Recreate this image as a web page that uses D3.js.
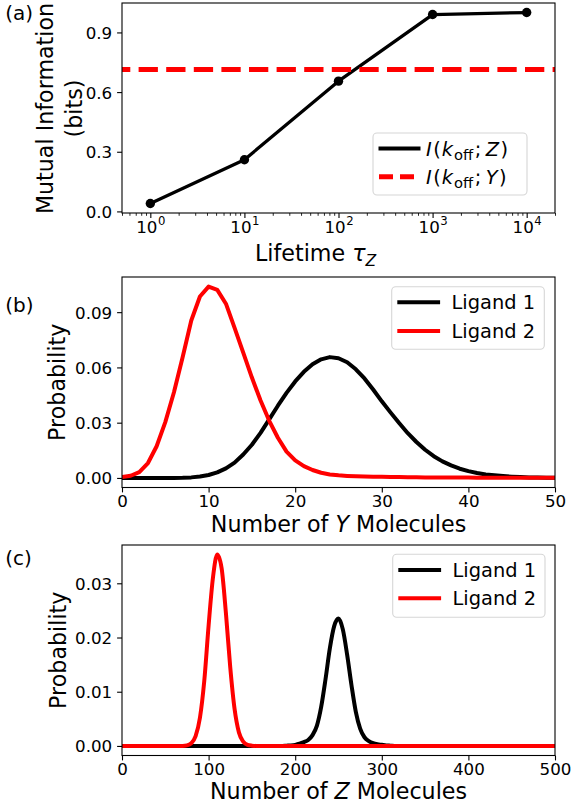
<!DOCTYPE html>
<html><head><meta charset="utf-8">
<script src="https://cdn.jsdelivr.net/npm/d3@7"></script>
<style>
body{margin:0;background:#fff}
svg{display:block}
text{font-family:"DejaVu Sans",Verdana,sans-serif;fill:#000}
</style>
</head><body>
<svg id="chart" width="575" height="806"></svg>
<script>
// ---------------- DATA ----------------
// Panel (a)
const lifetimes = [1, 10, 100, 1000, 10000];
const infoZ = [0.04, 0.26, 0.655, 0.99, 1.0];
const infoY = 0.713;
const lifetimeTicks = [1, 10, 100, 1000, 10000];
const lifetimeTickExp = ["0", "1", "2", "3", "4"];
const infoTicks = [0.0, 0.3, 0.6, 0.9];

// Panel (b): distribution of Y molecules (n = 0..50)
const yCounts = d3.range(0, 51);
const yLigand1 = [
  0, 0, 0, 0, 0, 0.00001, 0.00003, 0.0001, 0.0003, 0.0008,
  0.0016, 0.0030, 0.0052, 0.0083, 0.0127, 0.0180, 0.0245, 0.0318, 0.0392, 0.0462,
  0.0524, 0.0576, 0.0617, 0.0644, 0.0656, 0.0650, 0.0628, 0.0590, 0.0540, 0.0480,
  0.0416, 0.0356, 0.0298, 0.0243, 0.0195, 0.0153, 0.0118, 0.0090, 0.0068, 0.0050,
  0.0037, 0.0027, 0.0019, 0.0014, 0.0010, 0.0007, 0.0005, 0.0003, 0.0002, 0.00015,
  0.0001
];
const yLigand2 = [
  0.0005, 0.0012, 0.0032, 0.0081, 0.0172, 0.0303, 0.0465, 0.0655, 0.0855, 0.0985,
  0.1039, 0.1021, 0.0946, 0.0815, 0.0680, 0.0545, 0.0420, 0.0310, 0.0218, 0.0143,
  0.0095, 0.0064, 0.0043, 0.0028, 0.0019, 0.0014, 0.0011, 0.0009, 0.0008, 0.0007,
  0.0006, 0.0005, 0.0005, 0.0004, 0.0004, 0.0003, 0.0003, 0.0003, 0.0002, 0.0002,
  0.0002, 0.0001, 0.0001, 0.0001, 0.0001, 0.0001, 0.0001, 0.0001, 0.0001, 0.0001,
  0.0001
];
const yTicksB = [0.00, 0.03, 0.06, 0.09];
const xTicksB = [0, 10, 20, 30, 40, 50];

// Panel (c): distribution of Z molecules (n = 0, 5, ..., 500)
const zCounts = d3.range(0, 505, 5);
const zLigand1 = [
  0, 0, 0, 0, 0, 0, 0, 0, 0, 0,
  0, 0, 0, 0, 0, 0, 0, 0, 0, 0,
  0, 0, 0, 0, 0, 0, 0, 0, 0, 0,
  0, 0, 0, 0, 0, 0, 0, 0, 0.00005, 0.0001,
  0.0002, 0.0004, 0.0007, 0.0011, 0.0020, 0.0037, 0.0072, 0.0123, 0.0180, 0.0221,
  0.0235, 0.0215, 0.0168, 0.0112, 0.0063, 0.0032, 0.0016, 0.0009, 0.0005, 0.0003,
  0.0002, 0.0001, 0.00005, 0, 0, 0, 0, 0, 0, 0,
  0, 0, 0, 0, 0, 0, 0, 0, 0, 0,
  0, 0, 0, 0, 0, 0, 0, 0, 0, 0,
  0, 0, 0, 0, 0, 0, 0, 0, 0, 0,
  0
];
const zLigand2 = [
  0, 0, 0, 0, 0, 0, 0, 0, 0, 0,
  0, 0, 0, 0, 0, 0.0001, 0.0005, 0.0018, 0.0052, 0.0120,
  0.0222, 0.0310, 0.0353, 0.0328, 0.0245, 0.0145, 0.0068, 0.0025, 0.0008, 0.0002,
  0.00005, 0, 0, 0, 0, 0, 0, 0, 0, 0,
  0, 0, 0, 0, 0, 0, 0, 0, 0, 0,
  0, 0, 0, 0, 0, 0, 0, 0, 0, 0,
  0, 0, 0, 0, 0, 0, 0, 0, 0, 0,
  0, 0, 0, 0, 0, 0, 0, 0, 0, 0,
  0, 0, 0, 0, 0, 0, 0, 0, 0, 0,
  0, 0, 0, 0, 0, 0, 0, 0, 0, 0,
  0
];
const yTicksC = [0.00, 0.01, 0.02, 0.03];
const xTicksC = [0, 100, 200, 300, 400, 500];
const legendNames = ["Ligand 1", "Ligand 2"];

// ---------------- STYLE / LAYOUT ----------------
const FS_TICK = 16.7, FS_LABEL = 22.2, FS_LEG = 19.4, FS_PANEL = 20;
const L = 122, R = 555;
const BLACK = "#000000", RED = "#ff0000";
const svg = d3.select("#chart");

function padDomain(vals) {
  const lo = d3.min(vals), hi = d3.max(vals), p = (hi - lo) * 0.05;
  return [lo - p, hi + p];
}

function clip(id, top, bot) {
  svg.append("clipPath").attr("id", id).append("rect")
    .attr("x", L).attr("y", top).attr("width", R - L).attr("height", bot - top);
}

function styleAxis(sel) {
  sel.attr("font-size", null).attr("font-family", null);
  sel.select(".domain").remove();
  sel.selectAll(".tick line").attr("stroke", BLACK).attr("stroke-width", 1.1);
  sel.selectAll(".tick text").attr("font-size", FS_TICK).attr("fill", BLACK);
}

function yAxis(y, ticks, fmt) {
  const g = svg.append("g").attr("transform", `translate(${L},0)`)
    .call(d3.axisLeft(y).tickValues(ticks).tickFormat(fmt).tickSize(4.9).tickPadding(4.9).tickSizeOuter(0));
  styleAxis(g);
  g.selectAll(".tick text").attr("dy", "0.36em");
}

function xAxis(x, bot, ticks, fmt) {
  const g = svg.append("g").attr("transform", `translate(0,${bot})`)
    .call(d3.axisBottom(x).tickValues(ticks).tickFormat(fmt).tickSize(4.9).tickPadding(4.9).tickSizeOuter(0));
  styleAxis(g);
  g.selectAll(".tick text").attr("y", 19).attr("dy", 0);
  return g;
}

function frame(top, bot) {
  svg.append("rect").attr("x", L).attr("y", top).attr("width", R - L).attr("height", bot - top)
    .attr("fill", "none").attr("stroke", BLACK).attr("stroke-width", 1.1);
}

// rich text helper: parts = [{t, it, sub, dx}]
function rich(textSel, parts, fs, subScale) {
  const sc = subScale || 0.7;
  let shifted = 0;
  parts.forEach(p => {
    const ts = textSel.append("tspan").text(p.t);
    if (p.it) ts.attr("font-style", "italic");
    let dy = 0;
    if (p.sub) { ts.attr("font-size", fs * sc); dy = fs * 0.22 - shifted; shifted = fs * 0.22; }
    else if (shifted) { dy = -shifted; shifted = 0; }
    if (dy) ts.attr("dy", dy);
    if (p.dx) ts.attr("dx", p.dx);
  });
}

function legend(box, entries) {
  svg.append("rect").attr("x", box[0]).attr("y", box[1])
    .attr("width", box[2] - box[0]).attr("height", box[3] - box[1])
    .attr("rx", 4).attr("fill", "#fff").attr("fill-opacity", 0.8)
    .attr("stroke", "#d6d6d6").attr("stroke-width", 1.1);
  entries.forEach(e => {
    const ln = svg.append("line").attr("x1", e.hx0).attr("x2", e.hx1).attr("y1", e.y).attr("y2", e.y)
      .attr("stroke", e.color).attr("stroke-width", e.w);
    if (e.dash) ln.attr("stroke-dasharray", e.dash).attr("stroke-linecap", "butt");
    else ln.attr("stroke-linecap", "square");
    const t = svg.append("text").attr("x", e.tx).attr("y", e.y + 0.3645 * FS_LEG).attr("font-size", FS_LEG);
    if (e.parts) rich(t, e.parts, FS_LEG, 0.76); else t.text(e.label);
  });
}

function panelLabel(txt, y) {
  svg.append("text").attr("x", 5.3).attr("y", y).attr("font-size", FS_PANEL).text(txt);
}

// ---------------- PANEL (a) ----------------
{
  const top = 3, bot = 213;
  const x = d3.scaleLog().domain([0.5, 20000]).range([L, R]);
  const y = d3.scaleLinear().domain(padDomain(infoZ)).range([bot, top]);
  clip("clipA", top, bot);

  // minor ticks
  const minor = [];
  [0.1, 1, 10, 100, 1000, 10000].forEach(d => { for (let k = 2; k <= 9; k++) { const v = d * k; if (v >= 0.5 && v <= 20000) minor.push(v); } });
  const gm = svg.append("g").attr("transform", `translate(0,${bot})`)
    .call(d3.axisBottom(x).tickValues(minor).tickFormat("").tickSize(2.8).tickSizeOuter(0));
  gm.select(".domain").remove();
  gm.selectAll(".tick line").attr("stroke", BLACK).attr("stroke-width", 0.85);

  const gx = xAxis(x, bot, lifetimeTicks, () => "");
  gx.selectAll(".tick text").each(function (d, i) {
    const t = d3.select(this).attr("y", 19.5).attr("text-anchor", "middle");
    t.append("tspan").text("10");
    t.append("tspan").attr("font-size", FS_TICK * 0.7).attr("dy", -8).attr("dx", 0.5).text(lifetimeTickExp[i]);
  });
  yAxis(y, infoTicks, d3.format(".1f"));

  const g = svg.append("g").attr("clip-path", "url(#clipA)");
  g.append("path").datum(lifetimes.map((t, i) => [t, infoZ[i]]))
    .attr("d", d3.line().x(d => x(d[0])).y(d => y(d[1])))
    .attr("fill", "none").attr("stroke", BLACK).attr("stroke-width", 3.3).attr("stroke-linejoin", "round");
  svg.append("g").selectAll("circle").data(lifetimes).join("circle")
    .attr("cx", d => x(d)).attr("cy", (d, i) => y(infoZ[i])).attr("r", 4.7).attr("fill", BLACK);
  g.append("line").attr("x1", L).attr("x2", R).attr("y1", y(infoY)).attr("y2", y(infoY))
    .attr("stroke", RED).attr("stroke-width", 5).attr("stroke-dasharray", "19.3,8.3").attr("stroke-dashoffset", 11);

  frame(top, bot);

  const mathParts = v => [{ t: "I", it: 1 }, { t: "(", dx: 1.5 }, { t: "k", it: 1, dx: 1 }, { t: "off", sub: 1, dx: 1 },
    { t: ";", dx: 1.5 }, { t: v, it: 1, dx: 4.5 }, { t: ")", dx: 1.5 }];
  legend([373, 133, 527, 195], [
    { y: 148.5, hx0: 380.5, hx1: 418.5, color: BLACK, w: 4, tx: 426, parts: mathParts("Z") },
    { y: 176.7, hx0: 379, hx1: 418.5, color: RED, w: 5, dash: "14,7", tx: 426, parts: mathParts("Y") }
  ]);

  svg.append("text").attr("transform", "translate(52.9,108.5) rotate(-90)").attr("text-anchor", "middle")
    .attr("font-size", FS_LABEL).text("Mutual Information");
  svg.append("text").attr("transform", "translate(81.9,108.5) rotate(-90)").attr("text-anchor", "middle")
    .attr("font-size", FS_LABEL).text("(bits)");
  const xl = svg.append("text").attr("x", 255).attr("y", 261).attr("font-size", FS_LABEL);
  rich(xl, [{ t: "Lifetime " }, { t: "\u03C4", it: 1 }, { t: "Z", it: 1, sub: 1 }], FS_LABEL);
  panelLabel("(a)", 20.4);
}

// ---------------- distribution panels ----------------
function distPanel(cfg) {
  const { top, bot, xs, s1, s2, xdom, xticks, yticks, yfmt, clipId, legBox, legY, xVar, yLabX, labelY, panelTxt } = cfg;
  const x = d3.scaleLinear().domain(xdom).range([L, R]);
  const y = d3.scaleLinear().domain(padDomain(s1.concat(s2))).range([bot, top]);
  clip(clipId, top, bot);
  xAxis(x, bot, xticks, d3.format("d"));
  yAxis(y, yticks, yfmt);
  const g = svg.append("g").attr("clip-path", `url(#${clipId})`);
  const line = d3.line().x((d, i) => x(xs[i])).y(d => y(d)).curve(cfg.curve);
  g.append("path").datum(s1).attr("d", line).attr("fill", "none").attr("stroke", BLACK)
    .attr("stroke-width", 4).attr("stroke-linejoin", "round");
  g.append("path").datum(s2).attr("d", line).attr("fill", "none").attr("stroke", RED)
    .attr("stroke-width", 4).attr("stroke-linejoin", "round");
  frame(top, bot);
  legend(legBox, [
    { y: legY[0], hx0: legBox[0] + 7.6, hx1: legBox[0] + 46.4, color: BLACK, w: 4, tx: legBox[0] + 59.8, label: legendNames[0] },
    { y: legY[1], hx0: legBox[0] + 7.6, hx1: legBox[0] + 46.4, color: RED, w: 4, tx: legBox[0] + 59.8, label: legendNames[1] }
  ]);
  svg.append("text").attr("transform", `translate(${yLabX},${(top + bot) / 2}) rotate(-90)`)
    .attr("text-anchor", "middle").attr("font-size", FS_LABEL).text("Probability");
  const xl = svg.append("text").attr("x", (L + R) / 2).attr("y", labelY).attr("text-anchor", "middle").attr("font-size", FS_LABEL);
  rich(xl, [{ t: "Number of " }, { t: xVar, it: 1 }, { t: " Molecules" }], FS_LABEL);
  panelLabel(panelTxt, cfg.panelY);
}

distPanel({
  top: 277, bot: 487.5, xs: yCounts, s1: yLigand1, s2: yLigand2, xdom: [0, 50],
  xticks: xTicksB, yticks: yTicksB, yfmt: d3.format(".2f"), clipId: "clipB",
  legBox: [391.7, 286.7, 544.3, 349.3], legY: [302.3, 331], xVar: "Y", yLabX: 65.3,
  labelY: 531.5, panelTxt: "(b)", panelY: 312.4, curve: d3.curveLinear
});

distPanel({
  top: 545, bot: 755.5, xs: zCounts, s1: zLigand1, s2: zLigand2, xdom: [0, 500],
  xticks: xTicksC, yticks: yTicksC, yfmt: d3.format(".2f"), clipId: "clipC",
  legBox: [392.7, 554.3, 545, 617.3], legY: [570, 598.3], xVar: "Z", yLabX: 66.3,
  labelY: 798.6, panelTxt: "(c)", panelY: 564.7, curve: d3.curveMonotoneX
});
</script>
</body></html>
